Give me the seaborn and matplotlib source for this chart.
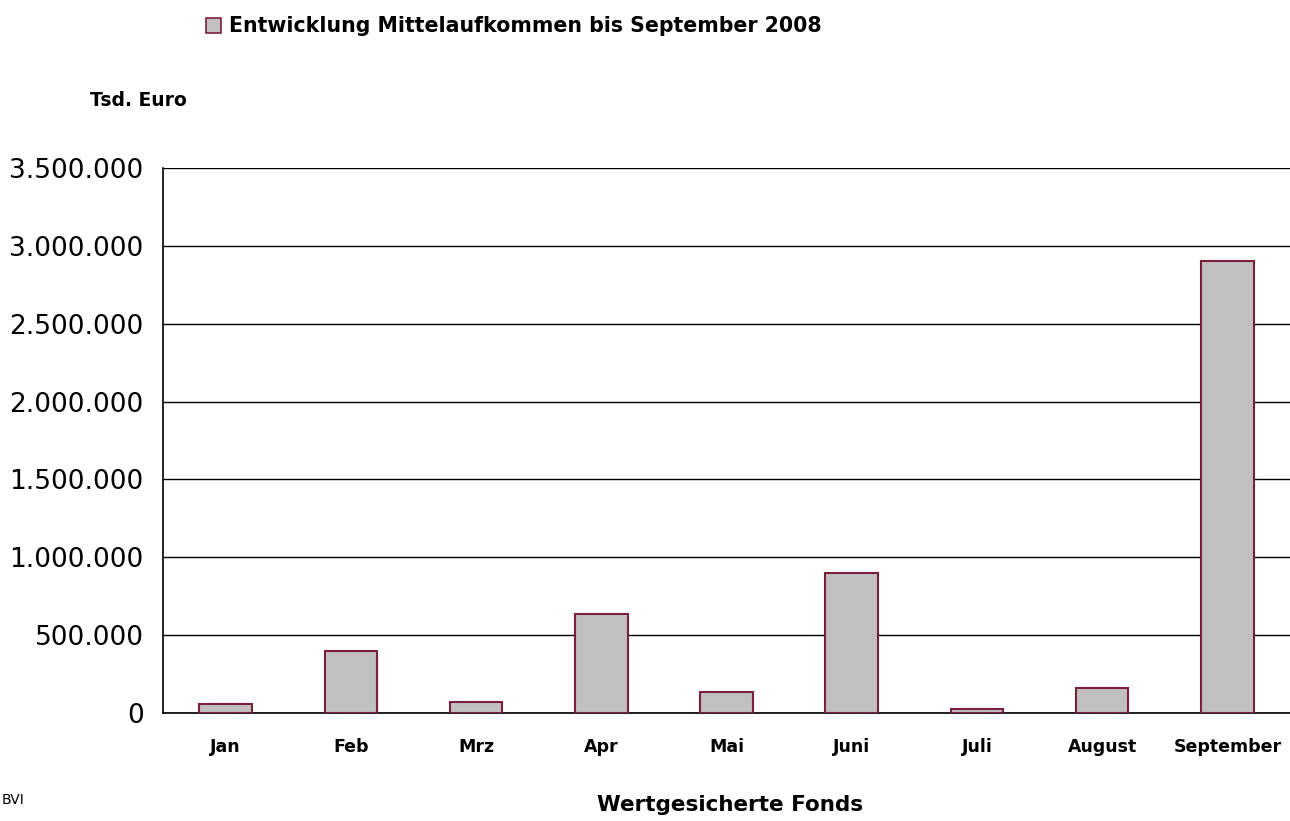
import numpy as np
import pandas as pd
import matplotlib
matplotlib.use("Agg")
import matplotlib.pyplot as plt
from matplotlib.ticker import FuncFormatter, FixedLocator
import seaborn as sns

# Monthly net inflows, Tsd. Euro
months = ["Jan", "Feb", "Mrz", "Apr", "Mai", "Juni", "Juli", "August", "September"]
inflow = [60000, 400000, 72000, 635000, 135000, 902000, 23000, 158000, 2900000]
series_label = "Entwicklung Mittelaufkommen bis September 2008"

df = pd.DataFrame({"Monat": months, "Mittelaufkommen": inflow})

sns.set_theme(style="white")
plt.rcParams["font.family"] = ["DejaVu Sans"]
plt.rcParams["text.color"] = "black"
plt.rcParams["xtick.color"] = "black"
plt.rcParams["ytick.color"] = "black"

fig = plt.figure(figsize=(12.9, 8.21), dpi=100)
ax = fig.add_axes([0.1264, 0.1315, 0.8736, 0.664])

sns.barplot(data=df, x="Monat", y="Mittelaufkommen", color="#C0C0C0",
            edgecolor="#7B2038", linewidth=1.5, width=0.42, saturation=1,
            label=series_label, legend=False, ax=ax, zorder=3)

ax.set_xlim(-0.5, len(months) - 0.5)
ax.set_ylim(0, 3500000)
ax.set_yticks(np.arange(0, 3500001, 500000))
ax.yaxis.set_major_formatter(FuncFormatter(lambda v, p: f"{v:,.0f}".replace(",", ".")))
ax.grid(axis="y", color="black", linewidth=1.0, zorder=0)
ax.set_axisbelow(True)

# tick marks between categories, labels centred under bars
ax.xaxis.set_minor_locator(FixedLocator(np.arange(-0.5, len(months), 1.0)))
ax.tick_params(axis="x", which="major", length=0, pad=18, labelsize=12.5)
ax.tick_params(axis="x", which="minor", length=8, width=1, color="black", direction="out")
ax.tick_params(axis="y", which="major", length=8, width=1, color="black",
               direction="out", labelsize=19, pad=6)
for lab in ax.get_xticklabels():
    lab.set_fontweight("bold")

for side in ["top", "right"]:
    ax.spines[side].set_visible(False)
for side in ["left", "bottom"]:
    ax.spines[side].set_color("black")
    ax.spines[side].set_linewidth(1.2)

ax.set_xlabel("")
ax.set_ylabel("")

fig.text(0.07, 0.878, "Tsd. Euro", fontsize=13.5, fontweight="bold", va="center")
fig.text(0.566, 0.019, "Wertgesicherte Fonds", fontsize=15.5, fontweight="bold",
         ha="center", va="center")
fig.text(0.001, 0.026, "BVI", fontsize=10, ha="left", va="center")

handles = [plt.Rectangle((0, 0), 1, 1, facecolor="#C0C0C0", edgecolor="#7B2038", linewidth=1.2)]
fig.legend(handles, [series_label], loc="center left", bbox_to_anchor=(0.145, 0.968),
           frameon=False, prop={"weight": "bold", "size": 14.8},
           handlelength=0.75, handleheight=0.75, handletextpad=0.4)

fig.savefig("out.png", dpi=100)
